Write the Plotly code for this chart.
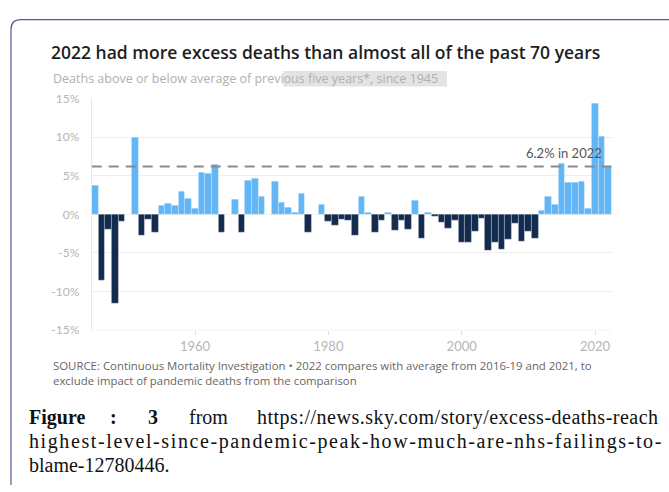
import plotly.graph_objects as go

W, H = 669, 492

# excess deaths vs average of previous five years, %
years = list(range(1945, 2023))
excess_pct = [
    3.7, -8.6, -2.0, -11.5, -0.9, 0.0, 9.9, -2.7, -0.7, -2.4,
    1.1, 1.4, 1.1, 2.9, 2.1, 0.7, 5.4, 5.25, 6.5, -2.3,
    0.0, 1.9, -2.3, 4.4, 4.7, 2.3, 0.0, 4.2, 1.6, 0.9,
    0.3, 2.7, -2.3, 0.0, 1.3, -0.9, -1.5, -0.7, -0.8, -2.7,
    2.3, 0.3, -2.3, -0.8, 0.2, -2.1, -0.8, -2.0, 1.8, -3.1,
    0.2, -0.3, -1.0, -1.8, -0.8, -3.7, -3.7, -2.2, -0.6, -4.7,
    -3.6, -4.6, -3.3, -1.2, -3.5, -2.2, -3.1, 0.5, 2.3, 1.3,
    6.6, 4.1, 4.1, 4.3, 0.8, 14.4, 10.1, 6.2,
]
y_ticks = [-15, -10, -5, 0, 5, 10, 15]
y_tick_text = ["-15%", "-10%", "-5%", "0%", "5%", "10%", "15%"]
x_ticks = [1960, 1980, 2000, 2020]
level_2022 = 6.2

LIGHT = "#62b6f6"
DARK = "#132b4e"


def px(x):
    return x / W


def py(y):
    return 1 - y / H


colors = [LIGHT if v >= 0 else DARK for v in excess_pct]

fig = go.Figure(go.Bar(
    x=years, y=excess_pct,
    marker=dict(color=colors, line=dict(color="rgba(255,255,255,0.45)", width=0.6)),
    hoverinfo="x+y",
))

fig.update_layout(
    width=W, height=H, autosize=False,
    margin=dict(l=0, r=0, t=0, b=0),
    paper_bgcolor="white", plot_bgcolor="white",
    bargap=0, showlegend=False,
    font=dict(family="Open Sans", color="#b5b5b5"),
    xaxis=dict(
        domain=[px(91.7), px(611.7)], range=[1944.5, 2022.5],
        tickvals=x_ticks, showgrid=False, zeroline=False,
        ticks="outside", ticklen=4, tickcolor="#dddddd",
        tickfont=dict(family="Lato", size=13, color="#b5b5b5"),
        fixedrange=True,
    ),
    yaxis=dict(
        domain=[py(332.3), py(93.3)], range=[-15, 15],
        tickvals=y_ticks, ticktext=y_tick_text,
        showgrid=True, gridcolor="#eeeeee", gridwidth=1, zeroline=False,
        showline=True, linecolor="#e8e8e8", linewidth=1,
        ticks="outside", ticklen=9, tickcolor="rgba(0,0,0,0)",
        tickfont=dict(family="Lato", size=12, color="#b5b5b5"),
        fixedrange=True,
    ),
)

# bottom line at -15%
fig.add_shape(type="line", xref="x", yref="y", x0=1944.5, x1=2022.5, y0=-15, y1=-15,
              line=dict(color="#e8e8e8", width=1), layer="below")

# dashed reference line for 2022
fig.add_shape(type="line", xref="x", yref="y", x0=1944.5, x1=2022.5,
              y0=level_2022, y1=level_2022,
              line=dict(color="#8a8a8a", width=2, dash="10px,7px"), layer="above")
fig.add_annotation(xref="paper", yref="y", x=px(604), y=level_2022, yshift=3,
                   xanchor="right", yanchor="bottom", showarrow=False,
                   text=f"{level_2022}% in 2022",
                   font=dict(family="Lato", size=13, color="#555555"))

# frame around the figure
fig.add_shape(type="path", xref="paper", yref="paper",
              path=f"M {px(11)},{py(492)} L {px(11)},{py(22)} Q {px(11)},{py(12)} {px(21)},{py(12)} L {px(669)},{py(12)}",
              line=dict(color="#5b5494", width=1.2))

# grey selection highlight behind part of the subtitle
fig.add_shape(type="rect", xref="paper", yref="paper",
              x0=px(283), x1=px(447), y0=py(81), y1=py(65),
              fillcolor="#e3e3e3", line=dict(width=0), layer="below")

fig.add_annotation(xref="paper", yref="paper", x=px(49), y=py(45.5),
                   xanchor="left", yanchor="middle", showarrow=False,
                   text="2022 had more excess deaths than almost all of the past 70 years",
                   font=dict(family="Open Sans", size=17.5, color="#1e1e1e", weight=600))
fig.add_annotation(xref="paper", yref="paper", x=px(51), y=py(73),
                   xanchor="left", yanchor="middle", showarrow=False,
                   text="Deaths above or below average of previous five years*, since 1945",
                   font=dict(family="Open Sans", size=12.5, color="#b0b0b0"))

source_lines = [
    "SOURCE: Continuous Mortality Investigation • 2022 compares with average from 2016-19 and 2021, to",
    "exclude impact of pandemic deaths from the comparison",
]
fig.add_annotation(xref="paper", yref="paper", x=px(51), y=py(376.5),
                   xanchor="left", yanchor="middle", align="left", showarrow=False,
                   text="<br>".join(source_lines),
                   font=dict(family="Open Sans", size=11.4, color="#666666"))

# caption below the chart, justified like the source document
serif = dict(family="Liberation Serif", size=20, color="#111111")
first_line = [
    ("<b>Figure</b>", 27, "left"),
    ("<b>:</b>", 113, "center"),
    ("<b>3</b>", 153, "center"),
    ("from", 187, "left"),
    ('<span style="letter-spacing:0.5px">https://news.sky.com/story/excess-deaths-reach</span>', 661, "right"),
]
for text, x, anchor in first_line:
    fig.add_annotation(xref="paper", yref="paper", x=px(x), y=py(422),
                       xanchor=anchor, yanchor="middle", showarrow=False,
                       text=text, font=serif)
fig.add_annotation(xref="paper", yref="paper", x=px(27), y=py(447),
                   xanchor="left", yanchor="middle", showarrow=False,
                   text='<span style="letter-spacing:1.6px">highest-level-since-pandemic-peak-how-much-are-nhs-failings-to-</span>',
                   font=serif)
fig.add_annotation(xref="paper", yref="paper", x=px(27), y=py(471),
                   xanchor="left", yanchor="middle", showarrow=False,
                   text="blame-12780446.", font=serif)

page_fix = (
    "document.body.style.margin='0';"
    "document.body.style.overflow='hidden';"
    "var d=document.getElementsByClassName('plotly-graph-div')[0];"
    "d.style.position='fixed';d.style.left='0';d.style.top='0';"
)
fig.write_html(
    "out.html",
    config={"responsive": False, "displayModeBar": False},
    post_script=page_fix,
)
